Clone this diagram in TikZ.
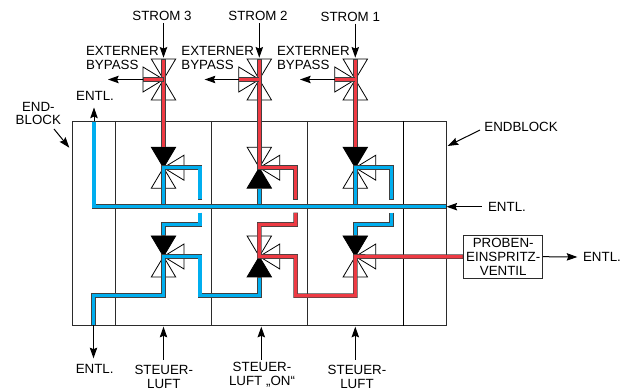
\documentclass[tikz,border=0pt]{standalone}
\usepackage{fontspec}
\setmainfont{Liberation Sans}
\usetikzlibrary{arrows.meta}
\definecolor{pipered}{HTML}{EE3A43}
\definecolor{pipeblue}{HTML}{00AEEF}
\definecolor{pipeedge}{HTML}{404040}
\definecolor{linegray}{HTML}{2B2B2B}
\tikzset{
	pics/valve/.style n args={3}{code={
		\draw[fill=#1] (0,0)--(-12.2,-20.5)--(12.2,-20.5)--cycle;
		\draw[fill=#2] (0,0)--(-12.2,20.5)--(12.2,20.5)--cycle;
		\draw (0,0)--(#3*20.5,-12.5)--(#3*20.5,12.5)--cycle;
		\coordinate (-c) at (0,0);
		\coordinate (-n) at (0,-20.5);
		\coordinate (-s) at (0,20.5);
		\coordinate (-b) at (#3*20.5,0);
	}},
	redpipe/.style={draw=pipeedge, line width=3.4pt, postaction={draw=pipered, line width=2.5pt, shorten >=.4pt, shorten <=.4pt}},
	bluepipe/.style={draw=pipeedge, line width=3.4pt, postaction={draw=pipeblue, line width=2.5pt, shorten >=.4pt, shorten <=.4pt}},
	lab/.style={inner sep=0pt, align=center, font=\fontsize{10}{10.4}\selectfont},
	arr/.style={->, line width=.75pt, draw=black}
}
\begin{document}
\begin{tikzpicture}[x=.75pt, y=-.75pt, line width=.6pt, >={Stealth[length=8pt,width=5.6pt,inset=1.2pt]}] %Ventilblock
	\useasboundingbox (0,0) rectangle (626,392);
	% Block
	\node[draw=linegray, line width=.7pt, minimum width=373.3*.75pt, minimum height=204*.75pt, inner sep=0pt] (block) at (259.35,223.3) {};
	\draw[linegray, line width=.7pt] (115.7,0 |- block.north) -- (115.7,0 |- block.south);
	\draw[linegray, line width=.7pt] (211.7,0 |- block.north) -- (211.7,0 |- block.south);
	\draw[linegray, line width=.7pt] (307.3,0 |- block.north) -- (307.3,0 |- block.south);
	\draw[black, line width=1.1pt] (403.3,0 |- block.north) -- (403.3,0 |- block.south);
	% Ventile
	\pic (tv3) at (163.5,79.5) {valve={none}{none}{-1}};
	\pic (tv2) at (259.3,79.5) {valve={none}{none}{-1}};
	\pic (tv1) at (355.3,79.5) {valve={none}{none}{-1}};
	\pic (mv3) at (163.5,167.7) {valve={black}{none}{1}};
	\pic (mv2) at (259.3,167.7) {valve={none}{black}{1}};
	\pic (mv1) at (355.3,167.7) {valve={black}{none}{1}};
	\pic (lv3) at (163.5,256.5) {valve={black}{none}{1}};
	\pic (lv2) at (259.3,256.5) {valve={none}{black}{1}};
	\pic (lv1) at (355.3,256.5) {valve={black}{none}{1}};
	% Probe
	\node[draw=linegray, line width=.7pt, minimum width=79*.75pt, minimum height=43.3*.75pt, inner sep=0pt, align=center, font=\fontsize{10}{10.4}\selectfont] (probe) at (503.2,256.7) {PROBEN-\\EINSPRITZ-\\VENTIL};
	% Leitungen rot
	\draw[redpipe] (tv3-n) -- (mv3-n);
	\draw[redpipe] (tv3-b) -- (tv3-c);
	\draw[redpipe] (tv2-n) -- (mv2-c) -- (295.7,167.7) -- (295.7,200);
	\draw[redpipe] (tv2-b) -- (tv2-c);
	\draw[redpipe] (tv1-n) -- (mv1-n);
	\draw[redpipe] (tv1-b) -- (tv1-c);
	\draw[redpipe] (295.7,212.7) -- (295.7,224.5) -- (259.3,224.5) -- (lv2-c) -- (295.7,256.5) -- (295.7,295.7) -- (355.3,295.7) -- (lv1-c) -- (probe.west);
	% Leitungen blau
	\draw[bluepipe] (94,121.3) -- (94,206.7) -- (block.east |- 0,206.7);
	\draw[bluepipe] (200,200) -- (200,167.7) -- (mv3-c) -- (163.5,205);
	\draw[bluepipe] (mv2-s) -- (259.3,205);
	\draw[bluepipe] (391.7,200) -- (391.7,167.7) -- (mv1-c) -- (355.3,205);
	\draw[bluepipe] (200,212.7) -- (200,224.5) -- (163.5,224.5) -- (lv3-n);
	\draw[bluepipe] (391.7,212.7) -- (391.7,224.5) -- (355.3,224.5) -- (lv1-n);
	\draw[bluepipe] (lv2-s) -- (259.3,295.7) -- (200,295.7) -- (200,256.5) -- (lv3-c) -- (163.5,295.7) -- (93.5,295.7) -- (93.5,325.3);
	% Oben
	\node[lab] (strom3) at (162,15.7) {STROM 3};
	\node[lab] (strom2) at (258,16) {STROM 2};
	\node[lab] (strom1) at (350.3,16.5) {STROM 1};
	\draw[arr, shorten >=1pt] (strom3.south -| tv3-n) ++(0,2) -- (tv3-n);
	\draw[arr, shorten >=1pt] (strom2.south -| tv2-n) ++(0,2) -- (tv2-n);
	\draw[arr, shorten >=1pt] (strom1.south -| tv1-n) ++(0,2) -- (tv1-n);
	\node[lab, align=left, anchor=west] (ext3) at (85.7,58) {EXTERNER\\BYPASS};
	\node[lab, align=left, anchor=west] (ext2) at (181,58) {EXTERNER\\BYPASS};
	\node[lab, align=left, anchor=west] (ext1) at (276.7,58) {EXTERNER\\BYPASS};
	\coordinate (by3) at (108,79.5);
	\coordinate (by2) at (204.7,79.5);
	\coordinate (by1) at (300,79.5);
	\draw[arr] (tv3-b) -- (by3);
	\draw[arr] (tv2-b) -- (by2);
	\draw[arr] (tv1-b) -- (by1);
	% Links und rechts
	\node[lab] (entl1) at (95,96) {ENTL.};
	\coordinate (entl1a) at (94,107.5);
	\draw[arr] (94,121.3) -- (entl1a);
	\node[lab] (end1) at (38.3,113.5) {END-\\BLOCK};
	\coordinate (end1a) at (69.3,147.7);
	\draw[arr] (54,129) -- (end1a);
	\node[lab, anchor=west] (end2) at (484,127) {ENDBLOCK};
	\coordinate (end2a) at (447.7,146);
	\draw[arr] (480,130) -- (end2a);
	\node[lab, anchor=west] (entl2) at (487.7,206.7) {ENTL.};
	\draw[arr] (entl2.west) ++(-6,0) -- (block.east |- entl2.west);
	\node[lab, anchor=west] (entl3) at (582.7,257) {ENTL.};
	\draw[arr] (probe.east) -- ([xshift=-4pt]entl3.west);
	% Unten
	\node[lab] (entl4) at (94.7,369.3) {ENTL.};
	\draw[arr] (93.5,325.3) -- (93.5,358.3);
	\node[lab] (luft3) at (163.8,376.8) {STEUER-\\LUFT};
	\node[lab] (luft2) at (262,375) {STEUER-\\LUFT „ON“};
	\node[lab] (luft1) at (357,377) {STEUER-\\LUFT};
	\draw[arr] (163.5,360) -- (163.5,326.7);
	\draw[arr] (261.3,360) -- (261.3,326.7);
	\draw[arr] (355.3,360) -- (355.3,326.7);
\end{tikzpicture}
\end{document}
